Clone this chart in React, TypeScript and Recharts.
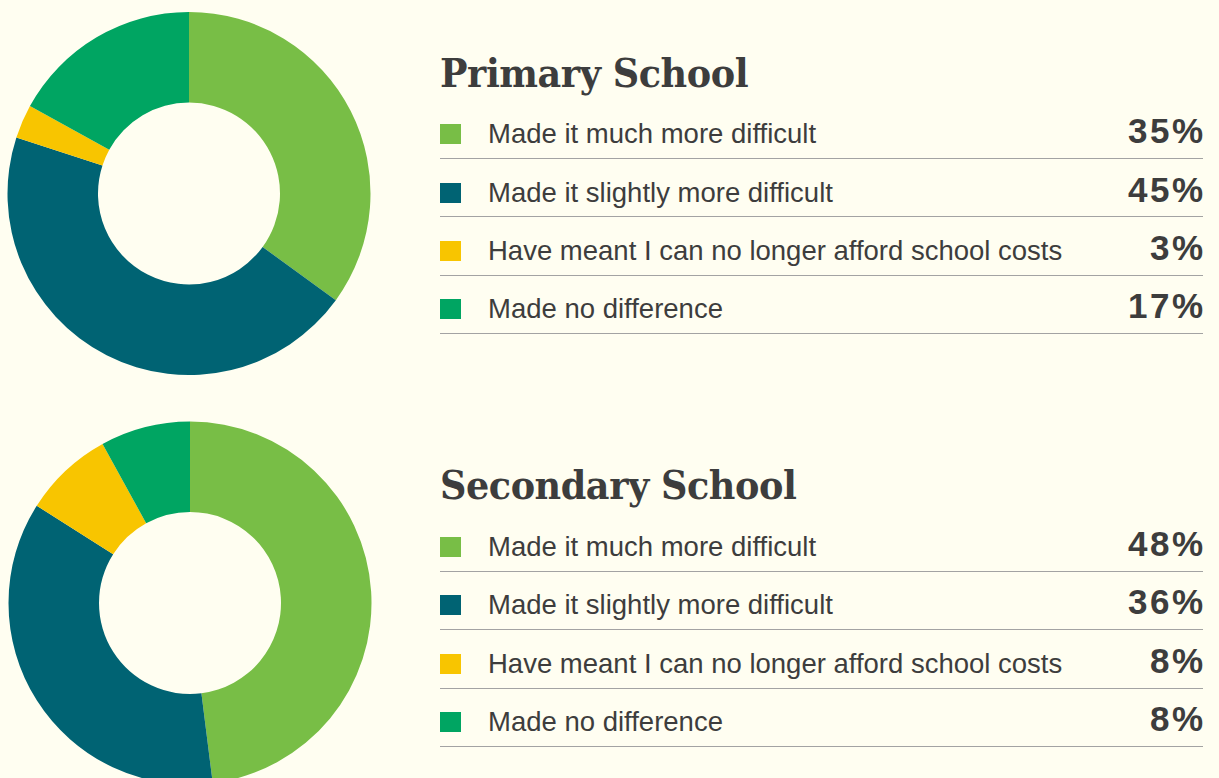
import React from 'react';
import { PieChart, Pie, Cell } from 'recharts';

const categories = [
    'Made it much more difficult',
    'Made it slightly more difficult',
    'Have meant I can no longer afford school costs',
    'Made no difference',
];
const colors = ['#78BE46', '#006373', '#F8C500', '#00A562'];
const primaryValues = [35, 45, 3, 17];
const secondaryValues = [48, 36, 8, 8];

const BG = '#FFFEF1';
const TEXT = '#3d3d3d';

const toData = (values: number[]) =>
    categories.map((name, i) => ({ name, value: values[i] }));

interface DonutProps {
    values: number[];
    top: number;
    height: number;
    cx: number;
    cy: number;
}

const Donut: React.FC<DonutProps> = ({ values, top, height, cx, cy }) => (
    <div style={{ position: 'absolute', left: 0, top, width: 390, height }}>
        <PieChart width={390} height={height} margin={{ top: 0, right: 0, bottom: 0, left: 0 }}>
            <Pie
                data={toData(values)}
                dataKey="value"
                cx={cx}
                cy={cy}
                innerRadius={91}
                outerRadius={181.5}
                startAngle={90}
                endAngle={-270}
                stroke="none"
                isAnimationActive={false}
            >
                {values.map((_, i) => (
                    <Cell key={i} fill={colors[i]} />
                ))}
            </Pie>
        </PieChart>
    </div>
);

interface LegendProps {
    title: string;
    values: number[];
    titleTop: number;
    rowsTop: number;
}

const LegendBlock: React.FC<LegendProps> = ({ title, values, titleTop, rowsTop }) => (
    <>
        <div
            style={{
                position: 'absolute',
                left: 440,
                top: titleTop,
                fontFamily: "'DejaVu Serif', serif",
                fontWeight: 'bold',
                fontSize: 40,
                letterSpacing: -0.5,
                transform: 'scaleX(0.915)',
                transformOrigin: 'left center',
                color: TEXT,
                lineHeight: 1,
                whiteSpace: 'nowrap',
            }}
        >
            {title}
        </div>
        {categories.map((name, i) => (
            <div
                key={name}
                style={{
                    position: 'absolute',
                    left: 440,
                    top: rowsTop + i * 58.4,
                    width: 763,
                    height: 58.4,
                    boxSizing: 'border-box',
                    borderBottom: '1px solid #a3a3a3',
                    display: 'flex',
                    alignItems: 'center',
                    paddingTop: 10,
                    fontFamily: "'Liberation Sans', Arial, sans-serif",
                    color: TEXT,
                }}
            >
                <div style={{ width: 21, height: 20, background: colors[i], flex: 'none' }} />
                <div style={{ marginLeft: 27, fontSize: 27.5, flex: 1, whiteSpace: 'nowrap' }}>{name}</div>
                <div
                    style={{
                        fontSize: 35,
                        fontWeight: 'bold',
                        letterSpacing: 2.5,
                        marginRight: -2.5,
                        position: 'relative',
                        top: -3,
                    }}
                >
                    {values[i]}%
                </div>
            </div>
        ))}
    </>
);

export default function App() {
    return (
        <div
            style={{
                position: 'fixed',
                left: 0,
                top: 0,
                width: 1219,
                height: 778,
                background: BG,
                overflow: 'hidden',
            }}
        >
            <Donut values={primaryValues} top={0} height={390} cx={189} cy={193.5} />
            <Donut values={secondaryValues} top={400} height={378} cx={190} cy={203} />
            <LegendBlock title="Primary School" values={primaryValues} titleTop={53} rowsTop={100.6} />
            <LegendBlock title="Secondary School" values={secondaryValues} titleTop={465} rowsTop={513.4} />
        </div>
    );
}
